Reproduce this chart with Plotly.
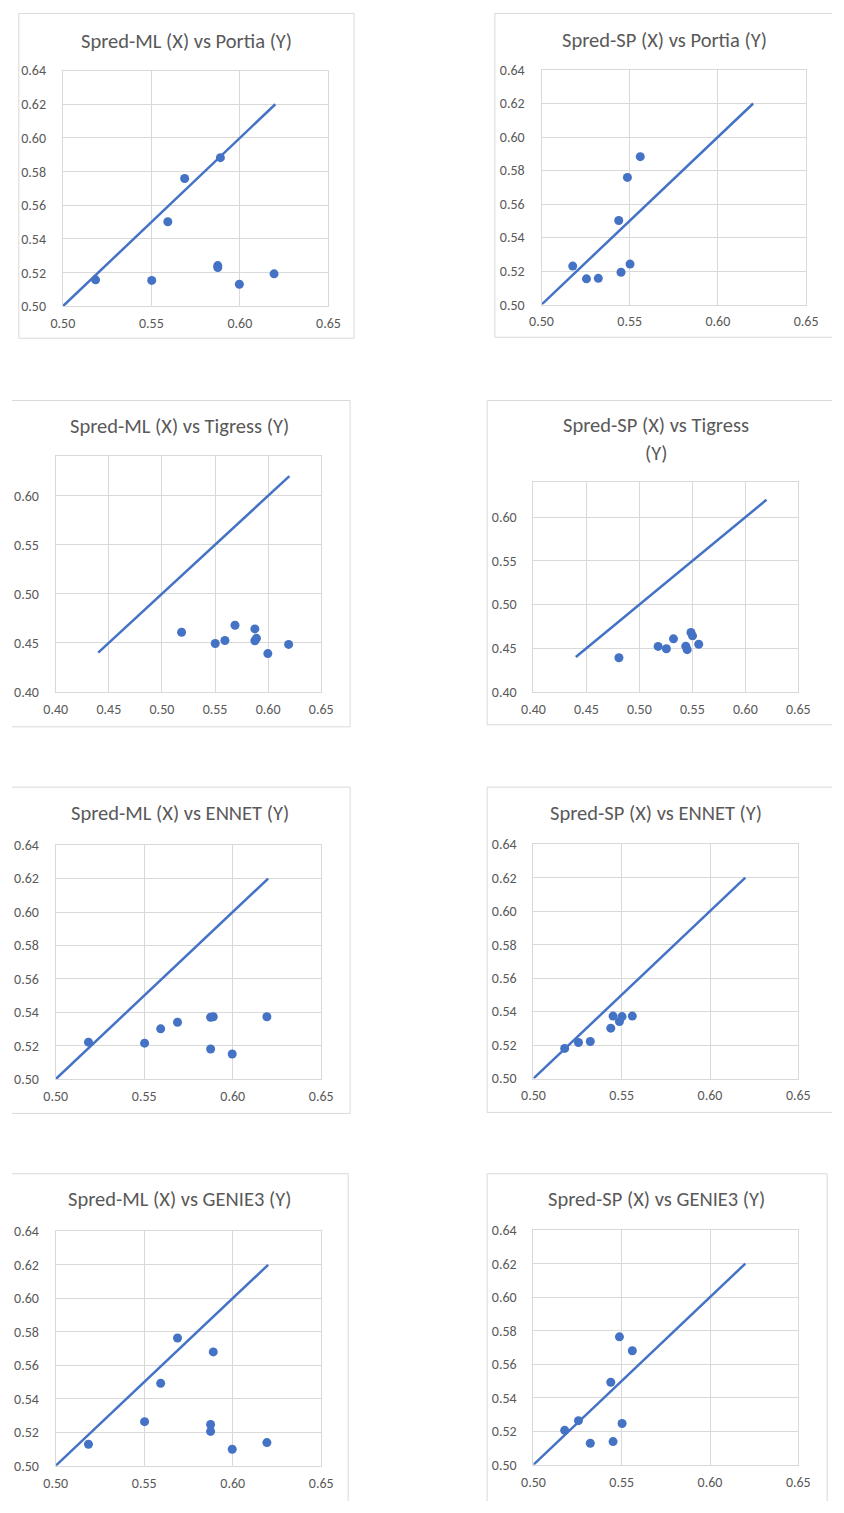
import plotly.graph_objects as go

# ---- data (datasets A..I) ----
spred_ml = [0.5185, 0.5502, 0.5593, 0.5688, 0.5890, 0.5875, 0.5875, 0.5997, 0.6193]
spred_sp = [0.5322, 0.5255, 0.5438, 0.5487, 0.5560, 0.5502, 0.5177, 0.4807, 0.5451]
portia   = [0.5157, 0.5154, 0.5502, 0.5759, 0.5883, 0.5242, 0.5230, 0.5131, 0.5193]
tigress  = [0.4608, 0.4494, 0.4524, 0.4680, 0.4546, 0.4642, 0.4521, 0.4391, 0.4484]
ennet    = [0.5221, 0.5215, 0.5301, 0.5340, 0.5373, 0.5370, 0.5180, 0.5150, 0.5373]
genie3   = [0.5128, 0.5263, 0.5492, 0.5763, 0.5680, 0.5246, 0.5205, 0.5098, 0.5138]

diag_main = [0.50, 0.62]
diag_tig = [0.44, 0.62]

titles = [
    ["Spred-ML (X) vs Portia (Y)"], ["Spred-SP (X) vs Portia (Y)"],
    ["Spred-ML (X) vs Tigress (Y)"], ["Spred-SP (X) vs Tigress", "(Y)"],
    ["Spred-ML (X) vs ENNET (Y)"], ["Spred-SP (X) vs ENNET (Y)"],
    ["Spred-ML (X) vs GENIE3 (Y)"], ["Spred-SP (X) vs GENIE3 (Y)"],
]

W, H = 844, 1510
BLUE = "#4472C4"
GRID = "#D9D9D9"
TXT = "#595959"
FONT = "Calibri, Carlito, Lato, sans-serif"

def px(x):
    return x / W

def py(y):
    return 1 - y / H

# plot areas in page pixels: (x0, x1, ytop, ybottom)
areas = [
    (52.3, 325.7, 63.3, 301.7),
    (545.0, 817.3, 62.7, 300.0),
    (45.0, 318.3, 453.6, 691.7),
    (536.7, 809.3, 479.7, 691.7),
    (45.0, 318.3, 846.7, 1083.3),
    (536.7, 809.3, 845.7, 1082.7),
    (45.0, 318.3, 1237.3, 1474.3),
    (536.7, 809.3, 1236.0, 1473.3),
]
# box edges (left, right, top, bottom); None = side outside the picture
boxes = [
    (7, 352, 5.5, 334),
    (497, None, 5.5, 333),
    (None, 348, 397, 727),
    (489, None, 397, 725),
    (None, 348, 788, 1118),
    (489, None, 788, 1117),
    (None, 346, 1179, None),
    (489, 839, 1179, None),
]
title_pos = [
    (180, [33]), (672, [32]), (172, [423]), (663, [422, 450]),
    (173, [814]), (663, [814]), (172, [1205]), (663, [1205]),
]

pairs = [
    (spred_ml, portia, diag_main, False), (spred_sp, portia, diag_main, False),
    (spred_ml, tigress, diag_tig, True), (spred_sp, tigress, diag_tig, True),
    (spred_ml, ennet, diag_main, False), (spred_sp, ennet, diag_main, False),
    (spred_ml, genie3, diag_main, False), (spred_sp, genie3, diag_main, False),
]

fig = go.Figure()
layout = dict(
    width=W, height=H, margin=dict(l=0, r=0, t=0, b=0),
    paper_bgcolor="white", plot_bgcolor="white", showlegend=False,
    font=dict(family=FONT, color=TXT, size=14),
)
shapes = []
annotations = []

def hline(xa, xb, y):
    shapes.append(dict(type="line", xref="paper", yref="paper", x0=px(xa), x1=px(xb),
                       y0=py(y), y1=py(y), line=dict(color=GRID, width=1), layer="below"))

def vline(x, ya, yb):
    shapes.append(dict(type="line", xref="paper", yref="paper", x0=px(x), x1=px(x),
                       y0=py(ya), y1=py(yb), line=dict(color=GRID, width=1), layer="below"))

for i, (xs, ys, diag, tig) in enumerate(pairs):
    n = i + 1
    xa = "x" if n == 1 else f"x{n}"
    ya = "y" if n == 1 else f"y{n}"
    fig.add_trace(go.Scatter(x=diag, y=diag, mode="lines", xaxis=xa, yaxis=ya,
                             line=dict(color=BLUE, width=2.5), hoverinfo="skip"))
    fig.add_trace(go.Scatter(x=xs, y=ys, mode="markers", xaxis=xa, yaxis=ya,
                             marker=dict(color=BLUE, size=9), cliponaxis=True))
    x0, x1, yt, yb = areas[i]
    if tig:
        xr, xdt, yr, ydt = [0.40, 0.65], 0.05, [0.40, 0.64], 0.05
    else:
        xr, xdt, yr, ydt = [0.50, 0.65], 0.05, [0.50, 0.64], 0.02
    common = dict(
        tickformat=".2f", showgrid=True, gridcolor=GRID, gridwidth=1,
        showline=True, linecolor=GRID, linewidth=1, mirror=True, zeroline=False,
        ticks="", tickfont=dict(size=14, color=TXT, family=FONT), fixedrange=True,
        tick0=0.40,
    )
    layout[f"xaxis{n}"] = dict(domain=[px(x0), px(x1)], range=xr, dtick=xdt,
                               anchor=ya, ticklabelstandoff=4, **common)
    layout[f"yaxis{n}"] = dict(domain=[py(yb), py(yt)], range=yr, dtick=ydt,
                               anchor=xa, ticklabelstandoff=13, **common)
    bl, br, bt, bb = boxes[i]
    L = 0 if bl is None else bl
    R = W if br is None else br
    T = bt
    B = H if bb is None else bb
    hline(L, R, T)
    if bb is not None:
        hline(L, R, B)
    if bl is not None:
        vline(bl, T, B)
    if br is not None:
        vline(br, T, B)
    tx, tys = title_pos[i]
    for line, ty in zip(titles[i], tys):
        annotations.append(dict(text=line, x=px(tx), y=py(ty), xref="paper", yref="paper",
                                xanchor="center", yanchor="middle", showarrow=False,
                                font=dict(size=20.5, color=TXT, family=FONT)))

layout["shapes"] = shapes
layout["annotations"] = annotations
fig.update_layout(**layout)
fig.write_html(
    "out.html",
    config={"displayModeBar": False},
    post_script="document.body.style.margin='0';document.documentElement.style.overflow='hidden';",
)
